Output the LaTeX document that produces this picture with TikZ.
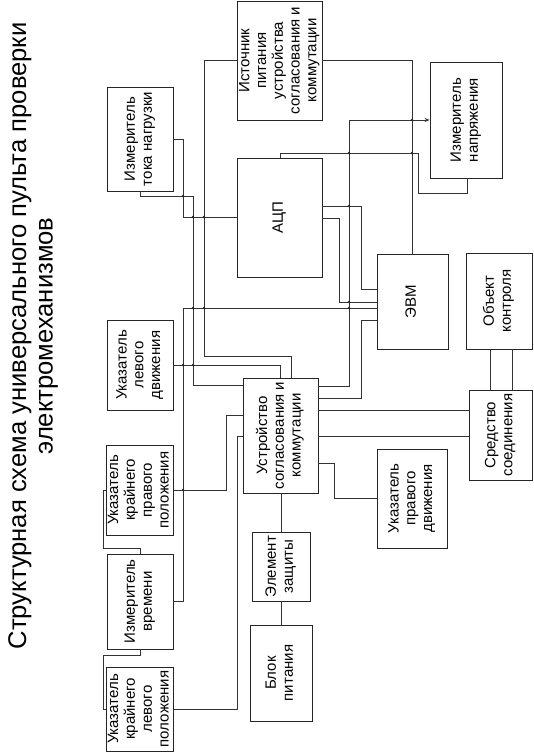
\documentclass[tikz,border=0pt]{standalone}
\usepackage{fontspec}
\setmainfont{Liberation Sans}
\usepackage{graphicx}
\usetikzlibrary{arrows.meta}

\newcommand{\vtxt}[1]{\rotatebox{90}{\begin{tabular}{@{}c@{}}#1\end{tabular}}}

\begin{document}
\begin{tikzpicture}[x=1pt,y=-1pt,
   blk/.style={draw=black!85,line width=0.9pt,inner sep=0pt,
               font=\fontsize{15}{16.8}\selectfont},
   wire/.style={draw=black!80,line width=0.8pt},
   jdot/.style={circle,fill=black!85,inner sep=0pt,minimum size=2.6pt}]
  \useasboundingbox (0,0) rectangle (534,754);
  \node[font=\fontsize{25.6}{26.5}\selectfont] (title) at (34,336)
       {\vtxt{Структурная схема универсального пульта проверки\\электромеханизмов}};
  \node[blk,minimum width=85,minimum height=119] (ist) at (279.5,60.5)
       {\vtxt{Источник\\питания\\устройства\\согласования и\\коммутации}};
  \node[blk,minimum width=66,minimum height=104] (izt) at (140,139) {\vtxt{Измеритель\\тока нагрузки}};
  \node[blk,minimum width=85,minimum height=119] (acp) at (279.5,217.5) {\vtxt{АЦП}};
  \node[blk,minimum width=72,minimum height=116] (izn) at (466,120) {\vtxt{Измеритель\\напряжения}};
  \node[blk,minimum width=71,minimum height=95] (evm) at (412.5,301.5) {\vtxt{ЭВМ}};
  \node[blk,minimum width=66,minimum height=96] (obj) at (499,301) {\vtxt{Объект\\контроля}};
  \node[blk,minimum width=63,minimum height=90] (sred) at (500.5,435) {\vtxt{Средство\\соединения}};
  \node[blk,minimum width=75,minimum height=115] (usk) at (280.5,435.5)
       {\vtxt{Устройство\\согласования и\\коммутации}};
  \node[blk,minimum width=70,minimum height=99] (upd) at (412,498.5) {\vtxt{Указатель\\правого\\движения}};
  \node[blk,minimum width=58,minimum height=69] (elz) at (281,566.5) {\vtxt{Элемент\\защиты}};
  \node[blk,minimum width=62,minimum height=96] (blp) at (281,673) {\vtxt{Блок\\питания}};
  \node[blk,minimum width=66,minimum height=90] (uld) at (140,365) {\vtxt{Указатель\\левого\\движения}};
  \node[blk,minimum width=66,minimum height=90] (ukpp) at (140,490)
       {\vtxt{Указатель\\крайнего\\правого\\положения}};
  \node[blk,minimum width=66,minimum height=95] (izv) at (140,601.5) {\vtxt{Измеритель\\времени}};
  \node[blk,minimum width=66,minimum height=84] (uklp) at (140,709)
       {\vtxt{Указатель\\крайнего\\левого\\положения}};

  \draw[wire] (ist.west) -| (204,356) -| (usk.north -| 291,0);
  \draw[wire] (izt.east) -| (183,217) -- (acp.west |- 0,217);
  \draw[wire] (izt.south) |- (193,196) |- (usk.west |- 0,385);
  \draw[wire] (izv.east) -| (183,308) -- (evm.west |- 0,308);
  \draw[wire] (uld.east) -| (usk.north -| 280,0);
  \draw[wire] (usk.west |- 0,415) -| (226,490) -- (ukpp.east);
  \draw[wire] (usk.west |- 0,436) -| (237,709) -- (uklp.east);
  \draw[wire] (ukpp.west) -| (103,548) -| (izv.north);
  \draw[wire] (izv.south) |- (103,655) |- (uklp.west);
  \draw[wire] (elz.north) -- (elz.north |- usk.south);
  \draw[wire] (elz.south) -- (blp.north);
  \draw[wire] (usk.east |- 0,463) -| (334,498) -- (upd.west |- 0,498);
  \draw[wire] (usk.east |- 0,410) -- (sred.west |- 0,410);
  \draw[wire] (usk.east |- 0,436) -- (sred.west |- 0,436);
  \draw[wire] (obj.south -| 490,0) -- (sred.north -| 490,0);
  \draw[wire] (obj.south -| 512,0) -- (sred.north -| 512,0);
  \draw[wire] (ist.east) -| (evm.north -| 412,0);
  \draw[wire] (acp.north -| 280,0) |- (418,153) |- (467,193) -- (izn.south -| 467,0);
  \draw[wire,-{Stealth[length=5pt,width=4pt]}] (usk.east |- 0,386) -| (349,120) -- (izn.west);
  \draw[wire] (acp.east |- 0,206) -| (361,289) -- (evm.west |- 0,289);
  \draw[wire] (acp.east |- 0,218) -| (339,302) -- (evm.west |- 0,302);
  \draw[wire] (evm.west |- 0,320) -| (361,398) -- (usk.east |- 0,398);

  \foreach \p [count=\i] in {(183,196),(193,217),(204,217),(193,308),(204,308),(349,308),
      (183,365),(193,365),(183,490),(412,120),(349,153),(412,153),(349,206),(349,302)}
    \node[jdot] (j\i) at \p {};
\end{tikzpicture}
\end{document}
